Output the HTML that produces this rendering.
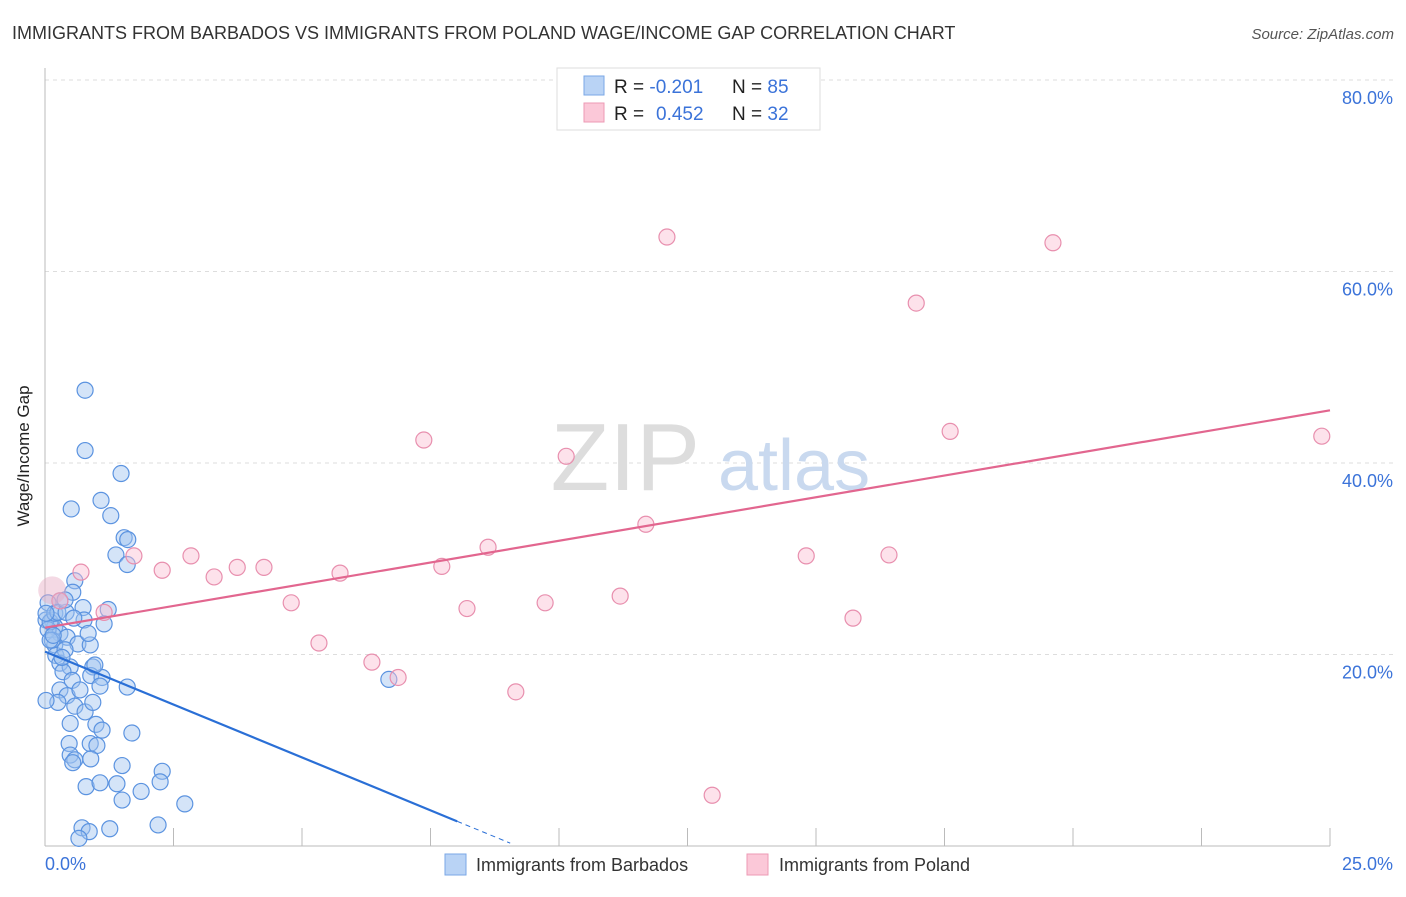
<!DOCTYPE html>
<html><head><meta charset="utf-8"><style>
body{margin:0;background:#fff;font-family:"Liberation Sans",sans-serif;}
svg text{font-family:"Liberation Sans",sans-serif;}
</style></head><body>
<svg width="1406" height="892" viewBox="0 0 1406 892">
<text x="12" y="39" font-size="18" fill="#333">IMMIGRANTS FROM BARBADOS VS IMMIGRANTS FROM POLAND WAGE/INCOME GAP CORRELATION CHART</text>
<text x="1394" y="39" font-size="15" fill="#555" text-anchor="end" font-style="italic">Source: ZipAtlas.com</text>
<g id="grid"></g>
<text x="700" y="490" font-size="96" fill="#ddd" text-anchor="end" font-family="Liberation Serif">ZIP</text>
<text x="718" y="490" font-size="72" fill="#c9d9ef">atlas</text>
<g id="axes"></g>
<g id="pts"></g>
<g id="lines"></g>
<text x="29" y="456" font-size="17" fill="#222" text-anchor="middle" transform="rotate(-90 29 456)">Wage/Income Gap</text>
<text x="45" y="870" font-size="18" fill="#3b73d9">0.0%</text>
<text x="1393" y="870" font-size="18" fill="#3b73d9" text-anchor="end">25.0%</text>
<g>
<rect x="557" y="68" width="263" height="62" fill="#fff" stroke="#ddd"/>
<rect x="584" y="76" width="20" height="19" fill="#b9d3f5" stroke="#7aa7e6"/>
<rect x="584" y="103" width="20" height="19" fill="#fbc8d8" stroke="#ec9ab4"/>
<text x="614" y="93" font-size="19" fill="#222">R = <tspan fill="#3b73d9">-0.201</tspan><tspan x="732">N = </tspan><tspan fill="#3b73d9">85</tspan></text>
<text x="614" y="120" font-size="19" fill="#222">R = <tspan x="656" fill="#3b73d9">0.452</tspan><tspan x="732">N = </tspan><tspan fill="#3b73d9">32</tspan></text>
</g>
<g>
<rect x="445" y="854" width="21" height="21" fill="#b9d3f5" stroke="#7aa7e6"/>
<text x="476" y="871" font-size="18" fill="#333">Immigrants from Barbados</text>
<rect x="747" y="854" width="21" height="21" fill="#fbc8d8" stroke="#ec9ab4"/>
<text x="779" y="871" font-size="18" fill="#333">Immigrants from Poland</text>
</g>
</svg>
<script>
const yTicks=[20,40,60,80];
const yTickLabels=["20.0%","40.0%","60.0%","80.0%"];
const xTicks=[2.5,5,7.5,10,12.5,15,17.5,20,22.5,25];
const blueX=[0.78,0.78,1.48,0.51,1.09,1.28,1.54,1.61,1.38,1.60,0.58,0.54,0.29,0.06,0.74,1.23,0.76,1.15,0.14,0.19,0.29,0.43,0.64,0.88,0.19,0.21,0.29,0.49,0.93,0.35,0.89,1.11,1.07,1.60,0.29,0.43,0.25,0.58,0.78,0.93,0.99,0.49,1.11,1.69,0.88,1.01,0.47,0.49,0.58,0.54,0.89,1.50,2.28,2.24,0.80,1.07,1.40,1.87,1.50,2.72,0.72,0.86,1.26,2.20,0.66,6.69,0.02,0.06,0.14,0.10,0.19,0.25,0.39,0.10,0.33,0.53,0.97,0.68,0.02,0.16,0.41,0.56,0.84,0.02,0.39];
const blueY=[47.6,41.3,38.9,35.2,36.1,34.5,32.2,32.0,30.4,29.4,27.7,26.5,25.6,25.4,24.9,24.7,23.6,23.2,23.6,22.9,22.2,21.8,21.1,21.0,21.0,19.9,19.1,18.7,18.7,18.2,17.8,17.6,16.7,16.6,16.3,15.7,15.0,14.6,14.0,15.0,12.7,12.8,12.1,11.8,10.7,10.5,10.7,9.5,9.0,8.7,9.1,8.4,7.8,6.7,6.2,6.6,6.5,5.7,4.8,4.4,1.9,1.5,1.8,2.2,0.8,17.4,23.6,22.6,21.5,23.4,24.3,24.4,20.5,21.5,19.7,17.3,18.9,16.3,15.2,22.0,24.4,23.8,22.2,24.3,25.7];
const pinkX=[12.10,19.61,16.95,7.37,10.14,17.61,24.84,11.69,8.62,14.81,16.42,1.73,2.84,2.28,3.29,3.74,4.26,5.74,7.72,0.70,1.15,4.79,8.21,9.73,11.19,15.72,5.33,6.36,6.87,9.16,12.98,0.29];
const pinkY=[63.6,63.0,56.7,42.4,40.7,43.3,42.8,33.6,31.2,30.3,30.4,30.3,30.3,28.8,28.1,29.1,29.1,28.5,29.2,28.6,24.4,25.4,24.8,25.4,26.1,23.8,21.2,19.2,17.6,16.1,5.3,25.6];
const bigPinkX=[0.14], bigPinkY=[26.7];
const blueTrend=[20.3,-2.21], blueSolidEnd=8.02, blueDashEnd=9.05;
const pinkTrend=[22.8,0.908];
const X0=45,X1=1330,Y0=846,Y1=80;
const sx=v=>X0+(v/25)*(X1-X0);
const sy=v=>Y0-(v/80)*(Y0-Y1);
const NS="http://www.w3.org/2000/svg";
function mk(tag,attrs,parent){const e=document.createElementNS(NS,tag);for(const k in attrs)e.setAttribute(k,attrs[k]);parent.appendChild(e);return e;}
const grid=document.getElementById('grid'),axes=document.getElementById('axes'),pts=document.getElementById('pts'),lines=document.getElementById('lines');
yTicks.forEach((t,i)=>{
 const l=mk('line',{x1:X0,x2:1393,y1:sy(t),y2:sy(t),stroke:'#ddd','stroke-dasharray':'4,4'},grid);
 
 
 const tx=mk('text',{x:1393,y:sy(t)+24,'font-size':18,fill:'#3b73d9','text-anchor':'end'},grid);
 tx.textContent=yTickLabels[i];
 
 
});
const ya=mk('line',{x1:X0,x2:X0,y1:68,y2:Y0,stroke:'#bbb'},axes);


const xa=mk('line',{x1:X0,x2:X1,y1:Y0,y2:Y0,stroke:'#bbb'},axes);


xTicks.forEach(t=>{
 const l=mk('line',{x1:sx(t),x2:sx(t),y1:828,y2:Y0,stroke:'#bbb'},axes);
 
 
});
blueX.forEach((v,i)=>{
 const c=mk('circle',{cx:sx(v),cy:sy(blueY[i]),r:8,fill:'rgba(160,195,240,0.45)',stroke:'#5b93e0','stroke-width':1.2},pts);
 
 
});
pinkX.forEach((v,i)=>{
 const c=mk('circle',{cx:sx(v),cy:sy(pinkY[i]),r:8,fill:'rgba(250,190,210,0.45)',stroke:'#e88fae','stroke-width':1.2},pts);
 
 
});
bigPinkX.forEach((v,i)=>{
 const c=mk('circle',{cx:sx(v),cy:sy(bigPinkY[i]),r:14,fill:'rgba(230,170,195,0.45)',stroke:'none'},pts);
 
 
});
const by=x=>blueTrend[0]+blueTrend[1]*x;
const py=x=>pinkTrend[0]+pinkTrend[1]*x;
const b1=mk('line',{x1:sx(0),y1:sy(by(0)),x2:sx(blueSolidEnd),y2:sy(by(blueSolidEnd)),stroke:'#2a6fd6','stroke-width':2.2},lines);


const b2=mk('line',{x1:sx(blueSolidEnd),y1:sy(by(blueSolidEnd)),x2:sx(blueDashEnd),y2:sy(by(blueDashEnd)),stroke:'#2a6fd6','stroke-width':1,'stroke-dasharray':'5,4'},lines);


const p1=mk('line',{x1:sx(0),y1:sy(py(0)),x2:sx(25),y2:sy(py(25)),stroke:'#e2668f','stroke-width':2.2},lines);


</script>
</body></html>
